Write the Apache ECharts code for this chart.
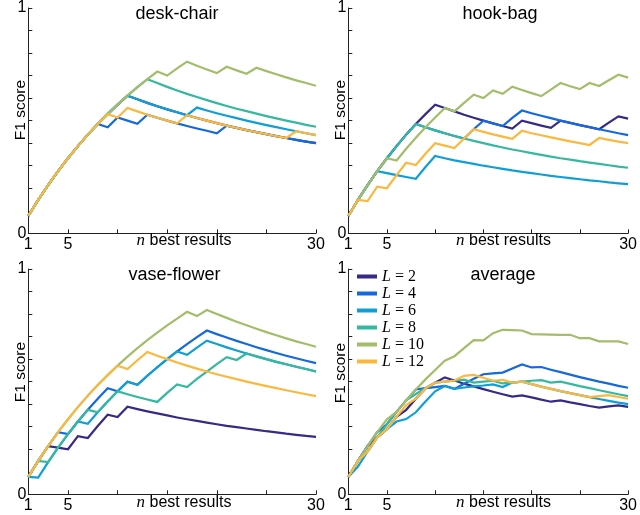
<!DOCTYPE html>
<html><head><meta charset="utf-8">
<script src="https://cdn.jsdelivr.net/npm/echarts@6/dist/echarts.min.js"></script>
<style>html,body{margin:0;padding:0;background:#fff}#c{width:640px;height:515px}</style>
</head><body><div id="c"></div>
<script>
const nValues = [1,2,3,4,5,6,7,8,9,10,11,12,13,14,15,16,17,18,19,20,21,22,23,24,25,26,27,28,29,30];
const xTickValues = [1,5,10,15,20,25,30];
const xLabelValues = [1,5,30];
const yLabelValues = [0,1];
const seriesNames = ['L = 2','L = 4','L = 6','L = 8','L = 10','L = 12'];
const panelTitles = ['desk-chair','hook-bag','vase-flower','average'];

const deskL2 = [.077,.148,.214,.276,.333,.387,.438,.485,.529,.571,.611,.595,.579,.564,.55,.537,.524,.512,.5,.489,.478,.468,.458,.449,.44,.431,.423,.415,.407,.4];
const deskL4 = [.077,.148,.214,.276,.333,.387,.438,.485,.471,.514,.5,.486,.526,.513,.5,.488,.476,.465,.455,.444,.478,.468,.458,.449,.44,.431,.423,.415,.407,.4];
const deskL6 = [.077,.148,.214,.276,.333,.387,.438,.485,.529,.571,.611,.595,.579,.564,.55,.537,.524,.558,.545,.533,.522,.511,.5,.49,.48,.471,.462,.453,.444,.436];
const deskL8 = [.077,.148,.214,.276,.333,.387,.438,.485,.529,.571,.611,.649,.684,.667,.65,.634,.619,.605,.591,.578,.565,.553,.542,.531,.52,.51,.5,.491,.481,.473];
const deskL10 = [.077,.148,.214,.276,.333,.387,.438,.485,.529,.571,.611,.649,.684,.718,.7,.732,.762,.744,.727,.711,.739,.723,.708,.735,.72,.706,.692,.679,.667,.655];
const deskL12 = [.077,.148,.214,.276,.333,.387,.438,.485,.529,.514,.556,.541,.526,.513,.5,.488,.524,.512,.5,.489,.478,.468,.458,.449,.44,.431,.423,.453,.444,.436];

const hookL2 = [.077,.148,.214,.276,.333,.387,.438,.485,.529,.571,.556,.541,.526,.513,.5,.488,.476,.465,.5,.489,.478,.468,.5,.49,.48,.471,.462,.491,.519,.509];
const hookL4 = [.077,.148,.214,.276,.333,.387,.438,.485,.471,.457,.444,.432,.421,.462,.5,.488,.476,.512,.545,.533,.522,.511,.5,.49,.48,.471,.462,.453,.444,.436];
const hookL6 = [.077,.148,.214,.276,.267,.258,.25,.242,.294,.343,.333,.324,.316,.308,.3,.293,.286,.279,.273,.267,.261,.255,.25,.245,.24,.235,.231,.226,.222,.218];
const hookL8 = [.077,.148,.214,.276,.333,.387,.438,.485,.471,.457,.444,.432,.421,.41,.4,.39,.381,.372,.364,.356,.348,.34,.333,.327,.32,.314,.308,.302,.296,.291];
const hookL10 = [.077,.148,.214,.276,.333,.323,.375,.424,.471,.514,.556,.541,.579,.615,.6,.634,.619,.651,.636,.622,.609,.638,.667,.653,.64,.667,.654,.679,.704,.691];
const hookL12 = [.077,.148,.143,.207,.2,.258,.313,.303,.353,.4,.389,.378,.421,.462,.45,.439,.429,.419,.455,.444,.435,.426,.417,.408,.4,.392,.423,.415,.407,.4];

const vaseL2 = [.077,.148,.214,.207,.2,.258,.25,.303,.353,.343,.389,.378,.368,.359,.35,.341,.333,.326,.318,.311,.304,.298,.292,.286,.28,.275,.269,.264,.259,.255];
const vaseL4 = [.077,.148,.214,.276,.267,.323,.375,.424,.471,.457,.5,.486,.526,.564,.6,.634,.667,.698,.727,.711,.696,.681,.667,.653,.64,.627,.615,.604,.593,.582];
const vaseL6 = [.077,.074,.143,.207,.267,.323,.313,.364,.412,.457,.5,.486,.526,.564,.6,.634,.619,.651,.682,.667,.652,.638,.625,.612,.6,.588,.577,.566,.556,.545];
const vaseL8 = [.077,.148,.143,.207,.267,.323,.375,.364,.412,.457,.444,.432,.421,.41,.45,.488,.476,.512,.545,.578,.609,.596,.625,.612,.6,.588,.577,.566,.556,.545];
const vaseL10 = [.077,.148,.214,.276,.333,.387,.438,.485,.529,.571,.611,.649,.684,.718,.75,.78,.81,.791,.818,.8,.783,.766,.75,.735,.72,.706,.692,.679,.667,.655];
const vaseL12 = [.077,.148,.214,.276,.333,.387,.438,.485,.529,.571,.556,.595,.632,.615,.6,.585,.571,.558,.545,.533,.522,.511,.5,.49,.48,.471,.462,.453,.444,.436];

const avgL2 = [.077,.148,.214,.253,.289,.344,.375,.424,.470,.495,.519,.505,.491,.479,.467,.455,.444,.434,.439,.430,.420,.411,.417,.408,.400,.392,.385,.390,.395,.388];
const avgL4 = [.077,.148,.214,.276,.311,.366,.417,.465,.471,.476,.481,.468,.491,.513,.533,.537,.540,.558,.576,.563,.565,.553,.542,.531,.520,.510,.500,.491,.481,.473];
const avgL6 = [.077,.123,.190,.253,.289,.323,.334,.364,.412,.457,.481,.468,.474,.479,.483,.488,.476,.496,.500,.489,.478,.468,.458,.449,.440,.431,.423,.415,.407,.400];
const avgL8 = [.077,.148,.190,.253,.311,.366,.417,.445,.471,.495,.500,.504,.509,.496,.500,.504,.492,.496,.500,.504,.507,.496,.500,.490,.480,.471,.462,.453,.444,.436];
const avgL10 = [.077,.148,.214,.276,.333,.366,.417,.465,.510,.552,.593,.613,.649,.684,.683,.715,.730,.729,.727,.711,.710,.709,.708,.708,.693,.693,.679,.679,.679,.667];
const avgL12 = [.077,.148,.190,.253,.289,.344,.396,.424,.470,.495,.500,.505,.526,.530,.517,.504,.508,.496,.500,.489,.478,.468,.458,.449,.440,.431,.436,.440,.432,.424];

const panelData = [
  [deskL2, deskL4, deskL6, deskL8, deskL10, deskL12],
  [hookL2, hookL4, hookL6, hookL8, hookL10, hookL12],
  [vaseL2, vaseL4, vaseL6, vaseL8, vaseL10, vaseL12],
  [avgL2, avgL4, avgL6, avgL8, avgL10, avgL12]
];

const colors = ['#352a87', '#1469dc', '#0f9fd6', '#35b8a0', '#a3bd6a', '#fbb83e'];
const SANS = 'Liberation Sans, Arial, Helvetica, sans-serif';
const SERIF = 'Liberation Serif, Times New Roman, serif';

const grids = [
  {left: 28.3, top: 6.7, width: 287.7, height: 226.6},
  {left: 348.3, top: 6.7, width: 287.7, height: 226.6},
  {left: 28.3, top: 269, width: 287.7, height: 225.3},
  {left: 348.3, top: 269, width: 287.7, height: 225.3}
];

const axisColor = '#222';
const xAxes = grids.map((g, i) => ({
  type: 'value', gridIndex: i, min: 1, max: 30,
  axisLine: {show: true, lineStyle: {color: axisColor, width: 1}},
  axisTick: {show: true, inside: true, length: 4, customValues: xTickValues, lineStyle: {color: axisColor}},
  axisLabel: {show: true, customValues: xLabelValues, margin: 3, color: '#000', fontSize: 16, fontFamily: SANS},
  splitLine: {show: false}
}));
const yAxes = grids.map((g, i) => ({
  type: 'value', gridIndex: i, min: 0, max: 1, interval: 0.1,
  axisLine: {show: true, lineStyle: {color: axisColor, width: 1}},
  axisTick: {show: true, inside: true, length: 4, lineStyle: {color: axisColor}},
  axisLabel: {show: true, customValues: yLabelValues, margin: 2, color: '#000', fontSize: 16, fontFamily: SANS},
  splitLine: {show: false}
}));

const series = [];
panelData.forEach((arrs, p) => {
  arrs.forEach((arr, k) => {
    series.push({
      name: seriesNames[k], type: 'line', xAxisIndex: p, yAxisIndex: p,
      data: nValues.map((n, i) => [n, arr[i]]),
      showSymbol: false, symbol: 'none', silent: true,
      lineStyle: {width: 2.2, color: colors[k], join: 'miter'},
      itemStyle: {color: colors[k]},
      z: 2 + k
    });
  });
});

const titlePos = [[177, 14], [500, 14], [174.5, 275], [503, 275]];
const ylabPos = [[21, 110], [341, 110], [21, 372], [341, 373]];
const xlabPos = [[184, 241], [503.5, 241], [184, 503], [503.5, 503]];
const graphic = [];
panelTitles.forEach((t, i) => {
  graphic.push({type: 'text', x: titlePos[i][0], y: titlePos[i][1], z: 100,
    style: {text: t, fontSize: 18, fontFamily: SANS, fill: '#000', align: 'center', verticalAlign: 'middle'}});
  graphic.push({type: 'text', x: ylabPos[i][0], y: ylabPos[i][1], rotation: Math.PI / 2, z: 100,
    style: {text: 'F1 score', fontSize: 15.5, fontFamily: SANS, fill: '#000', align: 'center', verticalAlign: 'middle'}});
  graphic.push({type: 'text', x: xlabPos[i][0], y: xlabPos[i][1], z: 100,
    style: {text: '{i|n} best results', fontSize: 16, fontFamily: SANS, fill: '#000', align: 'center', verticalAlign: 'middle',
      rich: {i: {fontFamily: SERIF, fontStyle: 'italic', fontSize: 17, fill: '#000'}}}});
});

const option = {
  animation: false,
  backgroundColor: '#fff',
  grid: grids,
  xAxis: xAxes,
  yAxis: yAxes,
  series: series,
  graphic: graphic,
  legend: {
    data: seriesNames, orient: 'vertical', left: 357, top: 268, padding: 0,
    itemWidth: 20, itemHeight: 4, itemGap: 0, icon: 'rect',
    formatter: name => '{i|L}' + name.slice(1),
    textStyle: {fontFamily: SERIF, fontSize: 16, color: '#000', lineHeight: 17,
      rich: {i: {fontFamily: SERIF, fontStyle: 'italic', fontSize: 16, lineHeight: 17}}}
  }
};

const chart = echarts.init(document.getElementById('c'), null, {renderer: 'canvas'});
chart.setOption(option);
</script></body></html>
